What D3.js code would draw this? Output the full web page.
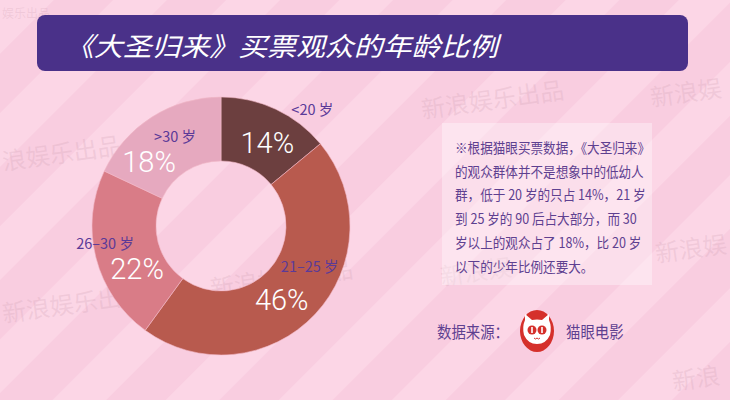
<!DOCTYPE html>
<html><head><meta charset="utf-8">
<script src="https://cdn.jsdelivr.net/npm/d3@7"></script>
<style>
html,body{margin:0;padding:0;background:#fad0e2;}
svg{display:block;}
</style></head>
<body>
<svg id="chart" width="730" height="400"></svg>
<script>
// ---- data ----
const categories = ["<20 岁", "21–25 岁", "26–30 岁", ">30 岁"];
const values = [14, 46, 22, 18];
const titleText = "《大圣归来》买票观众的年龄比例";
const noteLines = [
  "※根据猫眼买票数据，《大圣归来》",
  "的观众群体并不是想象中的低幼人",
  "群，低于 20 岁的只占 14%，21 岁",
  "到 25 岁的 90 后占大部分，而 30",
  "岁以上的观众占了 18%，比 20 岁",
  "以下的少年比例还要大。"
];
const sourceLabel = "数据来源：";
const sourceName = "猫眼电影";
const watermarks = ["娱乐出品","新浪娱乐出品","新浪娱","浪娱乐出品","新浪娱","新浪娱乐出品","新浪娱乐出品","新浪娱","新浪"];

// ---- layout / style ----
const W = 730, H = 400;
const cx = 221, cy = 226, rOuter = 129, rInner = 65;
const sliceColors = ["#6c3f3f", "#b85a4e", "#d97c87", "#e6a9bf"];
const pctNudge = [[5,5],[-10,8],[10,19],[-20,18]];
const catNudge = [[50,-30],[18,-27],[-22,-8],[6,-9]];
const wmPos = [[2,12,12,0],[421,108,24,-8],[650,96,24,-8],[2,160,24,-8],[655,252,24,-8],[2,312,24,-8],[210,287,24,-8],[440,275,24,-8],[672,380,24,-8]];

const svg = d3.select("#chart");
const defs = svg.append("defs");
const pat = defs.append("pattern").attr("id","stripes").attr("patternUnits","userSpaceOnUse")
  .attr("width",80).attr("height",80).attr("patternTransform","rotate(45)");
pat.append("rect").attr("width",80).attr("height",80).attr("fill","#f9cde0");
pat.append("rect").attr("x",0).attr("width",38).attr("height",80).attr("fill","#fcd6e6");

svg.append("rect").attr("width",W).attr("height",H).attr("fill","url(#stripes)");

// watermarks
svg.append("g").selectAll("text").data(watermarks).join("text")
  .attr("transform", (d,i) => `translate(${wmPos[i][0]},${wmPos[i][1]}) rotate(${wmPos[i][3]})`)
  .attr("dominant-baseline","central")
  .attr("font-family","'Noto Sans CJK SC', sans-serif")
  .attr("font-size",(d,i)=>wmPos[i][2])
  .attr("fill","#c89aab").attr("fill-opacity",0.22)
  .text(d => d);

// title box
svg.append("rect").attr("x",37).attr("y",15).attr("width",651).attr("height",56)
  .attr("rx",8).attr("fill","#4a3189");
svg.append("text").attr("x",65).attr("y",44)
  .attr("dominant-baseline","central")
  .attr("font-family","'Noto Sans CJK SC', sans-serif")
  .attr("font-size",26).attr("font-style","italic")
  .attr("textLength",433).attr("lengthAdjust","spacingAndGlyphs")
  .attr("fill","#ffffff").text(titleText);

// donut
const pie = d3.pie().sort(null).value(d => d)(values);
const arc = d3.arc().innerRadius(rInner).outerRadius(rOuter);
const g = svg.append("g").attr("transform",`translate(${cx},${cy})`);
g.selectAll("path").data(pie).join("path")
  .attr("d", arc).attr("fill",(d,i)=>sliceColors[i])
  .attr("stroke","#f2b8c8").attr("stroke-width",0.6);

g.selectAll("text.pct").data(pie).join("text").attr("class","pct")
  .attr("x",(d,i)=>arc.centroid(d)[0]+pctNudge[i][0])
  .attr("y",(d,i)=>arc.centroid(d)[1]+pctNudge[i][1])
  .attr("text-anchor","middle").attr("dominant-baseline","central")
  .attr("font-family","Roboto, 'Open Sans', sans-serif").attr("font-weight",300)
  .attr("font-size",29).attr("fill","#ffffff")
  .text(d => d.value + "%");

g.selectAll("text.cat").data(pie).join("text").attr("class","cat")
  .attr("x",(d,i)=>arc.centroid(d)[0]+catNudge[i][0])
  .attr("y",(d,i)=>arc.centroid(d)[1]+catNudge[i][1])
  .attr("text-anchor","middle").attr("dominant-baseline","central")
  .attr("font-family","'Noto Sans CJK SC', sans-serif")
  .attr("font-size",14.5).attr("fill","#5b3a98")
  .text((d,i) => categories[i]);

// note box
svg.append("rect").attr("x",442).attr("y",123).attr("width",210).attr("height",162)
  .attr("fill","#ffffff").attr("fill-opacity",0.35);
const note = svg.append("g").attr("transform","translate(455,0) scale(0.9,1)");
note.selectAll("text").data(noteLines).join("text")
  .attr("x",0).attr("y",(d,i)=>147 + i*23.8)
  .attr("dominant-baseline","central")
  .style("white-space","pre")
  .attr("font-family","'Noto Sans CJK SC', sans-serif")
  .attr("font-size",14).attr("fill","#5e4090")
  .text(d=>d);

// source
const src = svg.append("g");
src.append("text").attr("transform","translate(437,331) scale(0.9,1)")
  .attr("dominant-baseline","central")
  .attr("font-family","'Noto Sans CJK SC', sans-serif")
  .attr("font-size",16).attr("fill","#5e4090").text(sourceLabel);
src.append("text").attr("transform","translate(566,331) scale(0.9,1)")
  .attr("dominant-baseline","central")
  .attr("font-family","'Noto Sans CJK SC', sans-serif")
  .attr("font-size",16).attr("fill","#5e4090").text(sourceName);
// cat logo
const logo = src.append("g").attr("transform","translate(537,331)");
logo.append("ellipse").attr("rx",17).attr("ry",21).attr("fill","#d5302b");
logo.append("path")
  .attr("d","M-12,-11 L-12,-17 L-5,-11 Q0,-12 5,-11 L12,-17 L12,-11 Q15,-4 13,4 Q9,13 0,13 Q-9,13 -13,4 Q-15,-4 -12,-11 Z")
  .attr("fill","#ffffff");
logo.append("circle").attr("cx",-5).attr("cy",-1).attr("r",4.5).attr("fill","#d5302b");
logo.append("circle").attr("cx",5).attr("cy",-1).attr("r",4.5).attr("fill","#d5302b");
logo.append("rect").attr("x",-5.8).attr("y",-4).attr("width",1.6).attr("height",6).attr("fill","#fff");
logo.append("rect").attr("x",4.2).attr("y",-4).attr("width",1.6).attr("height",6).attr("fill","#fff");
logo.append("path").attr("d","M-3,7 Q-1.5,9 0,7 Q1.5,9 3,7").attr("fill","none").attr("stroke","#d5302b").attr("stroke-width",1);
</script>
</body></html>
